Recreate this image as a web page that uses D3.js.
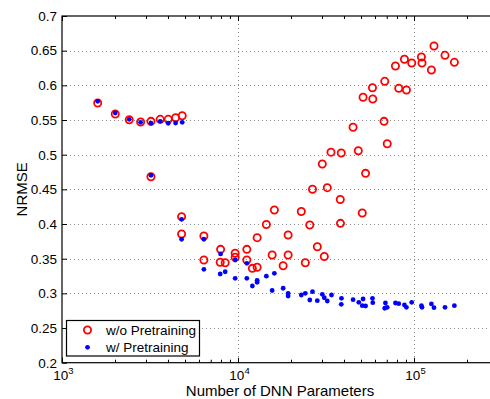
<!DOCTYPE html>
<html>
<head>
<meta charset="utf-8">
<script src="https://cdn.jsdelivr.net/npm/d3@7"></script>
<style>
	body { margin: 0; background: #fff; }
	svg { display: block; font-family: "Liberation Sans", Arial, Helvetica, sans-serif; }
</style>
</head>
<body>
<svg id="chart" width="490" height="399"></svg>
<script>
// Values
var woParams = [1595, 2007, 2410, 2797, 3201, 3614, 4013, 4420, 4818, 3201,
	4781, 4781, 6399, 6399, 7962, 7921, 8455, 9634, 9634, 11224,
	11224, 12064, 12844, 12844, 14488, 16088, 15632, 18046, 19264, 19264,
	22886, 25575, 24122, 28220, 30922, 38205, 38110, 50810, 26498, 32153,
	30116, 33747, 38604, 48232, 53054, 45052, 67551, 70431, 51348, 58294,
	58066, 68178, 81875, 90539, 78420, 88215, 97027, 110154, 111010, 125542,
	129870, 149970, 169550];
var woNrmse = [0.5745, 0.5587, 0.5504, 0.5471, 0.5481, 0.551, 0.551, 0.5533, 0.5562, 0.4682,
	0.4106, 0.3856, 0.3827, 0.3481, 0.3635, 0.3448, 0.3442, 0.3578, 0.352, 0.3635,
	0.3481, 0.3361, 0.3376, 0.3803, 0.3993, 0.4202, 0.3553, 0.3399, 0.3842, 0.3553,
	0.4181, 0.3986, 0.3442, 0.3673, 0.3532, 0.401, 0.4354, 0.4159, 0.4501, 0.4524,
	0.4866, 0.5036, 0.5024, 0.5056, 0.4731, 0.5395, 0.5481, 0.5157, 0.5828, 0.5803,
	0.5966, 0.6058, 0.5957, 0.5933, 0.6279, 0.6376, 0.6322, 0.6409, 0.6322, 0.6221,
	0.6567, 0.6433, 0.6332];

var wParams = [1595, 2007, 2410, 2797, 3201, 3614, 4013, 4420, 4818, 3201,
	4781, 4781, 6399, 6399, 7962, 7921, 8455, 9634, 9634, 11224,
	11224, 12064, 12844, 12844, 14488, 16088, 15632, 18046, 19264, 19264,
	22886, 24122, 26498, 25575, 28220, 30116, 30922, 32153, 33970, 38710,
	38604, 45052, 48550, 51348, 50810, 53054, 58066, 58294, 68794, 68178,
	70431, 78420, 81875, 88215, 90539, 97027, 110154, 111010, 125542, 129870,
	149970, 169550];
var wNrmse = [0.577, 0.5601, 0.551, 0.5467, 0.5453, 0.5481, 0.5453, 0.5457, 0.5467, 0.4703,
	0.4068, 0.378, 0.378, 0.3347, 0.3568, 0.3279, 0.3312, 0.3481, 0.3217, 0.3433,
	0.3217, 0.3106, 0.3188, 0.316, 0.3248, 0.3289, 0.3041, 0.3074, 0.3001, 0.2962,
	0.2976, 0.3001, 0.3024, 0.2904, 0.2894, 0.2986, 0.2937, 0.289, 0.2976, 0.2929,
	0.2842, 0.2909, 0.2871, 0.2919, 0.2822, 0.2818, 0.2929, 0.2865, 0.2861, 0.2785,
	0.2799, 0.2861, 0.2851, 0.2832, 0.2799, 0.2871, 0.2822, 0.2799, 0.2847, 0.2793,
	0.2799, 0.2822];

var xMajor = [1e3, 1e4, 1e5];
var xExp = ["3", "4", "5"];
var yTicks = [0.2, 0.25, 0.3, 0.35, 0.4, 0.45, 0.5, 0.55, 0.6, 0.65, 0.7];
var legendLabels = ["w/o Pretraining", "w/ Pretraining"];

// Plot box (right side runs past the picture edge)
var boxL = 62, boxT = 16, boxR = 498, boxB = 362.7;

var svg = d3.select('#chart');

var x = d3.scaleLog().domain([1e3, 3e5]).range([boxL, boxR]);
var y = d3.scaleLinear().domain([0.2, 0.7]).range([boxB, boxT]);

var xMinor = x.ticks().filter(function(d) { return xMajor.indexOf(d) < 0; });

// Dotted grid
var grid = svg.append("g").attr("stroke", "#8c8c8c").attr("stroke-width", 1)
	.attr("stroke-dasharray", "1,3");
grid.selectAll(".gy")
	.data(yTicks.slice(1, -1))
	.enter().append("line")
	.attr("x1", boxL).attr("x2", boxR)
	.attr("y1", function(d) { return Math.round(y(d)) + 0.5; })
	.attr("y2", function(d) { return Math.round(y(d)) + 0.5; });
grid.selectAll(".gx")
	.data(xMajor.slice(1))
	.enter().append("line")
	.attr("y1", boxT).attr("y2", boxB)
	.attr("x1", function(d) { return Math.round(x(d)) + 0.5; })
	.attr("x2", function(d) { return Math.round(x(d)) + 0.5; });

// Axes with inward ticks
function styleAxis(g) {
	g.select(".domain").remove();
	g.selectAll("line").attr("stroke", "#000");
}
svg.append("g").attr("transform", "translate(0," + boxB + ")")
	.call(d3.axisBottom(x).tickValues(xMajor).tickSize(-5).tickFormat("")).call(styleAxis);
svg.append("g").attr("transform", "translate(0," + boxB + ")")
	.call(d3.axisBottom(x).tickValues(xMinor).tickSize(-3).tickFormat("")).call(styleAxis);
svg.append("g").attr("transform", "translate(0," + boxT + ")")
	.call(d3.axisTop(x).tickValues(xMajor).tickSize(-5).tickFormat("")).call(styleAxis);
svg.append("g").attr("transform", "translate(0," + boxT + ")")
	.call(d3.axisTop(x).tickValues(xMinor).tickSize(-3).tickFormat("")).call(styleAxis);

var yAxis = svg.append("g").attr("transform", "translate(" + boxL + ",0)")
	.call(d3.axisLeft(y).tickValues(yTicks).tickSize(-5).tickPadding(5)
		.tickFormat(function(d) { return String(+d.toFixed(2)); }))
	.call(styleAxis);
yAxis.selectAll("text").attr("font-size", "13.5px").attr("fill", "#000")
	.attr("font-family", "Liberation Sans, Arial, sans-serif");

// Box
svg.append("rect")
	.attr("x", boxL).attr("y", boxT)
	.attr("width", boxR - boxL).attr("height", boxB - boxT)
	.attr("fill", "none").attr("stroke", "#000").attr("stroke-width", 1.2);

// x tick labels 10^n
var xl = svg.selectAll(".xl")
	.data(xMajor)
	.enter().append("text")
	.attr("x", function(d) { return x(d) + 1.5; })
	.attr("y", 380)
	.attr("text-anchor", "middle")
	.attr("font-size", "13.5px");
xl.append("tspan").text("10");
xl.append("tspan").attr("dy", -6).attr("font-size", "9.5px")
	.text(function(d, i) { return xExp[i]; });

// Axis titles
svg.append("text")
	.attr("x", (boxL + boxR) / 2).attr("y", 396)
	.attr("text-anchor", "middle").attr("font-size", "15px")
	.text("Number of DNN Parameters");
svg.append("text")
	.attr("transform", "translate(27," + ((boxT + boxB) / 2) + ") rotate(-90)")
	.attr("text-anchor", "middle").attr("font-size", "15px")
	.text("NRMSE");

// w/o pretraining: red rings
svg.append("g").selectAll("circle")
	.data(woParams)
	.enter().append("circle")
	.attr("cx", function(d) { return x(d); })
	.attr("cy", function(d, i) { return y(woNrmse[i]); })
	.attr("r", 3.6)
	.attr("fill", "none").attr("stroke", "#ff0000").attr("stroke-width", 1.8);

// w/ pretraining: blue dots
svg.append("g").selectAll("circle")
	.data(wParams)
	.enter().append("circle")
	.attr("cx", function(d) { return x(d); })
	.attr("cy", function(d, i) { return y(wNrmse[i]); })
	.attr("r", 2.4)
	.attr("fill", "#0000ff");

// Legend
var lg = svg.append("g");
lg.append("rect")
	.attr("x", 66.5).attr("y", 320.5).attr("width", 133).attr("height", 35.5)
	.attr("fill", "#fff").attr("stroke", "#000").attr("stroke-width", 1.2);
lg.append("circle").attr("cx", 87.5).attr("cy", 330).attr("r", 3.6)
	.attr("fill", "none").attr("stroke", "#ff0000").attr("stroke-width", 1.8);
lg.append("circle").attr("cx", 87.5).attr("cy", 347.3).attr("r", 2.4)
	.attr("fill", "#0000ff");
lg.selectAll("text")
	.data(legendLabels)
	.enter().append("text")
	.attr("x", 106)
	.attr("y", function(d, i) { return 335 + i * 17.3; })
	.attr("font-size", "13.5px")
	.text(function(d) { return d; });
</script>
</body>
</html>
